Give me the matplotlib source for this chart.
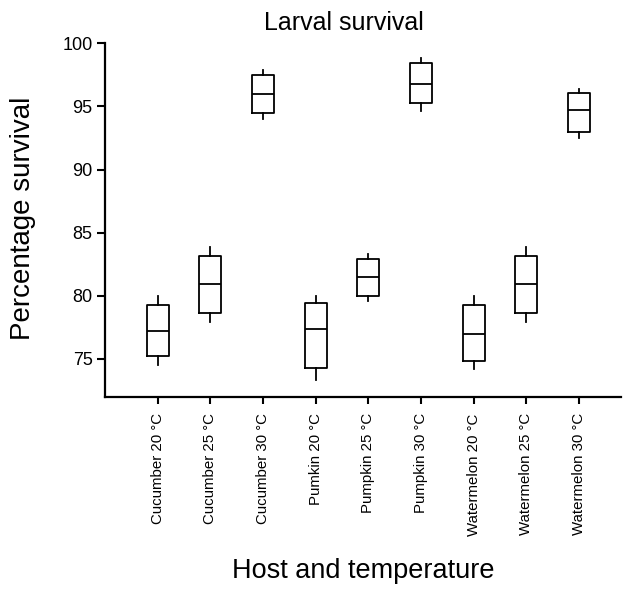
import numpy as np
import matplotlib
matplotlib.use("Agg")
from matplotlib import pyplot as plt

plt.rcParams['font.family'] = ['Liberation Sans', 'DejaVu Sans']

# data
groups = ['Cucumber 20 °C', 'Cucumber 25 °C', 'Cucumber 30 °C',
          'Pumkin 20 °C', 'Pumpkin 25 °C', 'Pumpkin 30 °C',
          'Watermelon 20 °C', 'Watermelon 25 °C', 'Watermelon 30 °C']
whislo = [74.5, 77.9, 94.0, 73.3, 79.6, 94.65, 74.2, 77.9, 92.5]
q1 = [75.2, 78.65, 94.45, 74.3, 80.0, 95.25, 74.85, 78.6, 93.0]
med = [77.2, 80.9, 95.95, 77.35, 81.5, 96.8, 77.0, 80.9, 94.7]
q3 = [79.3, 83.15, 97.45, 79.4, 82.9, 98.4, 79.3, 83.15, 96.05]
whishi = [80.0, 83.85, 97.9, 80.0, 83.3, 98.85, 80.0, 83.85, 96.4]

stats = []
for i in range(len(groups)):
    stats.append({'whislo': whislo[i], 'q1': q1[i], 'med': med[i],
                  'q3': q3[i], 'whishi': whishi[i], 'fliers': [],
                  'label': groups[i]})

fig = plt.figure(figsize=(6.26, 5.91), dpi=100)
ax = fig.add_axes([105 / 626, 194.3 / 591, 516 / 626, 353.4 / 591])

pos = np.arange(1, len(groups) + 1)
ax.bxp(stats, positions=pos, widths=0.42, showcaps=False, showfliers=False,
       boxprops=dict(color='black', linewidth=1.3),
       whiskerprops=dict(color='black', linewidth=1.3),
       medianprops=dict(color='black', linewidth=1.3))

ax.set_xlim(0, 9.8)
ax.set_ylim(72, 100)
ax.set_yticks([75, 80, 85, 90, 95, 100])
ax.set_xticks(pos)
ax.set_xticklabels(groups, rotation=90, fontsize=10.8)
ax.tick_params(axis='y', labelsize=13, width=1.5, length=6, pad=3)
ax.tick_params(axis='x', width=1.5, length=5, pad=7)

for s in ['top', 'right']:
    ax.spines[s].set_visible(False)
for s in ['left', 'bottom']:
    ax.spines[s].set_linewidth(1.6)

fig.text(23 / 626, 1 - 218 / 591, 'Percentage survival', fontsize=20,
         rotation=90, ha='center', va='center')
fig.text(363 / 626, 1 - 578 / 591, 'Host and temperature', fontsize=19.5,
         ha='center', va='baseline')
fig.text(344 / 626, 1 - 30 / 591, 'Larval survival', fontsize=18,
         ha='center', va='baseline')

fig.savefig('out.png', dpi=100)
